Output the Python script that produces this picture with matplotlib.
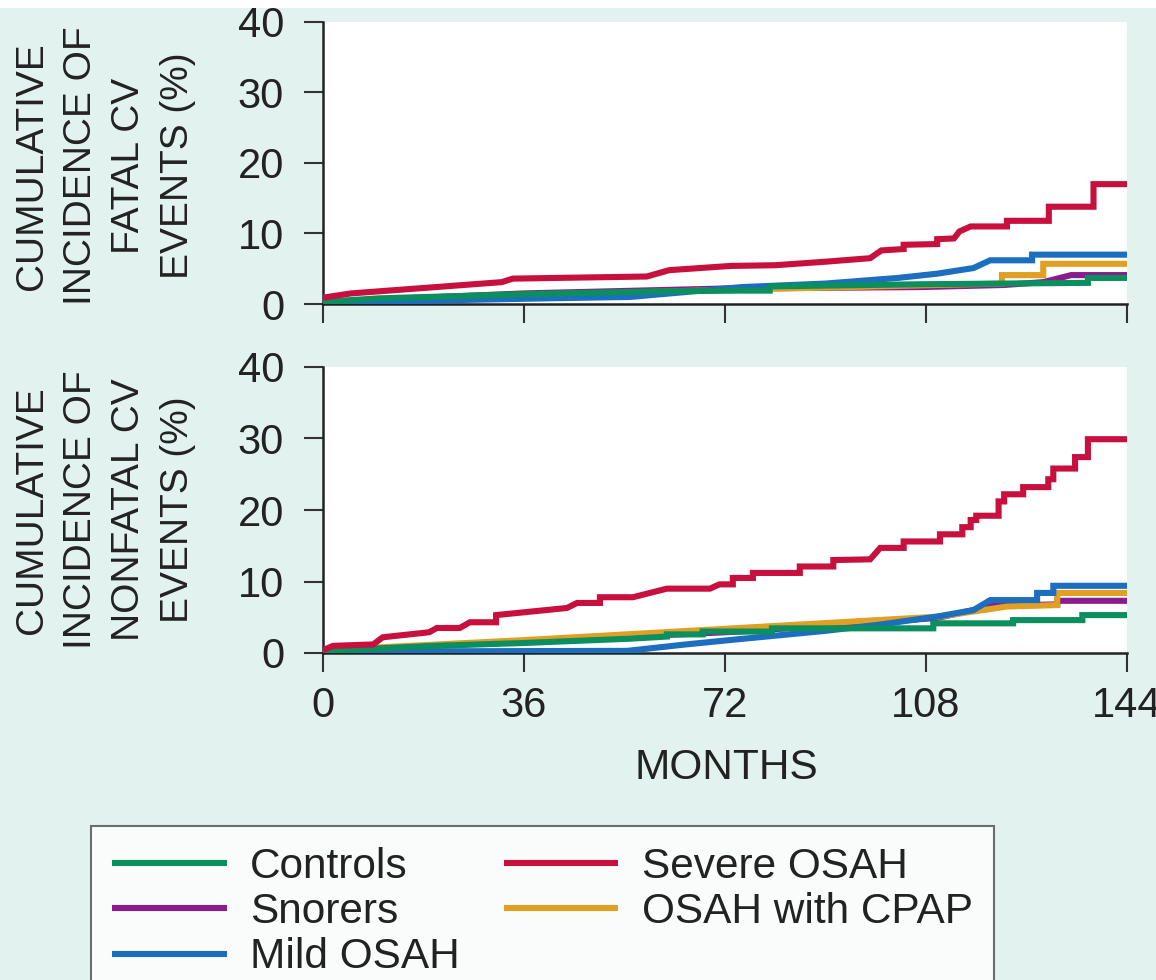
import matplotlib
matplotlib.use("Agg")
import matplotlib.pyplot as plt
from matplotlib.patches import Rectangle

plt.rcParams['font.family'] = ['Liberation Sans', 'DejaVu Sans']

# ---------------- data (months, cumulative incidence %) ----------------
group_names = ["Controls", "Snorers", "Mild OSAH", "Severe OSAH", "OSAH with CPAP"]
x_ticks = [0, 36, 72, 108, 144]
y_ticks = [0, 10, 20, 30, 40]

# Fatal CV events (top panel)
fatal_t_controls = [0, 10, 36, 60, 75, 80, 80, 107, 137, 137, 144]
fatal_v_controls = [0.3, 0.8, 1.4, 1.8, 1.9, 1.9, 2.5, 2.8, 3.0, 3.7, 3.7]

fatal_t_snorers = [0, 36, 72, 107, 122, 129, 134, 144]
fatal_v_snorers = [0.3, 1.5, 2.2, 2.4, 2.7, 3.1, 4.1, 4.1]

fatal_t_mild = [0, 20, 40, 55, 65, 75, 90, 103, 110, 116.5, 119.5, 127, 127, 144]
fatal_v_mild = [0.3, 0.5, 0.8, 1.0, 1.7, 2.4, 2.9, 3.7, 4.3, 5.1, 6.2, 6.2, 7.0, 7.0]

fatal_t_severe = [0, 5, 32, 34, 58, 62, 73, 81, 90, 98, 100, 104, 104, 110, 110, 113, 114,
                  116, 122.5, 122.5, 130, 130, 138, 138, 144]
fatal_v_severe = [0.9, 1.5, 3.1, 3.6, 3.9, 4.8, 5.4, 5.5, 6.0, 6.5, 7.6, 7.8, 8.4, 8.5, 9.2, 9.3, 10.3,
                  11.0, 11.0, 11.8, 11.8, 13.8, 13.8, 17.0, 17.0]

fatal_t_cpap = [0, 36, 72, 110, 121.6, 121.6, 129, 129, 144]
fatal_v_cpap = [0.3, 1.2, 2.0, 2.7, 2.9, 4.1, 4.1, 5.7, 5.7]

# Nonfatal CV events (bottom panel)
nonfatal_t_controls = [0, 20, 36, 55, 61.6, 61.6, 68, 68, 80.4, 80.4, 109.3, 109.3,
                       123.6, 123.6, 136, 136, 144]
nonfatal_v_controls = [0.3, 1.0, 1.4, 2.0, 2.3, 2.6, 2.6, 3.0, 3.0, 3.45, 3.45, 4.15,
                       4.15, 4.6, 4.6, 5.3, 5.3]

nonfatal_t_snorers = [0, 36, 74.7, 110, 120, 131.5, 131.5, 144]
nonfatal_v_snorers = [0.3, 1.6, 3.0, 4.9, 6.6, 6.8, 7.3, 7.3]

nonfatal_t_mild = [0, 54.5, 65, 74.7, 90, 100, 110, 116.5, 119.5, 127.9, 127.9,
                   130.8, 130.8, 144]
nonfatal_v_mild = [0.2, 0.3, 1.2, 1.95, 3.1, 4.0, 5.1, 6.0, 7.4, 7.4, 8.4,
                   8.4, 9.4, 9.4]

nonfatal_t_severe = [0, 1.8, 9, 10.7, 19, 20.4, 24.5, 26.3, 31, 31, 43.7, 45.5, 49.6, 49.6,
                     55.5, 61.6, 69.3, 71, 73.4, 73.4, 77, 77, 85.4, 85.4, 91.4, 91.4,
                     98, 99.8, 104, 104, 110.5, 110.5, 114.5, 114.5, 116, 116, 117, 117,
                     121, 121, 122, 122, 125.4, 125.4, 129.9, 129.9, 130.8, 130.8,
                     134.7, 134.7, 137, 137, 144]
nonfatal_v_severe = [0.4, 1.0, 1.2, 2.2, 2.9, 3.5, 3.5, 4.3, 4.3, 5.3, 6.3, 7.0, 7.0, 7.8,
                     7.8, 9.0, 9.0, 9.6, 9.6, 10.5, 10.5, 11.2, 11.2, 12.1, 12.1, 13.0,
                     13.1, 14.7, 14.7, 15.6, 15.6, 16.6, 16.6, 17.6, 17.6, 18.6, 18.6, 19.2,
                     19.2, 21.2, 21.2, 22.2, 22.2, 23.2, 23.2, 24.3, 24.3, 25.8,
                     25.8, 27.4, 27.4, 29.9, 29.9]

nonfatal_t_cpap = [0, 36, 74.7, 110.5, 122.5, 131.5, 131.5, 144]
nonfatal_v_cpap = [0.4, 1.8, 3.5, 5.1, 6.5, 6.7, 8.4, 8.4]

colors = {"Controls": "#0b8f5e", "Snorers": "#8a1c8c", "Mild OSAH": "#1c6fbe",
          "Severe OSAH": "#c8103f", "OSAH with CPAP": "#e0a024"}
zorders = {"Snorers": 2, "OSAH with CPAP": 3, "Mild OSAH": 4, "Controls": 5, "Severe OSAH": 6}

fatal = {"Controls": (fatal_t_controls, fatal_v_controls),
         "Snorers": (fatal_t_snorers, fatal_v_snorers),
         "Mild OSAH": (fatal_t_mild, fatal_v_mild),
         "Severe OSAH": (fatal_t_severe, fatal_v_severe),
         "OSAH with CPAP": (fatal_t_cpap, fatal_v_cpap)}
nonfatal = {"Controls": (nonfatal_t_controls, nonfatal_v_controls),
            "Snorers": (nonfatal_t_snorers, nonfatal_v_snorers),
            "Mild OSAH": (nonfatal_t_mild, nonfatal_v_mild),
            "Severe OSAH": (nonfatal_t_severe, nonfatal_v_severe),
            "OSAH with CPAP": (nonfatal_t_cpap, nonfatal_v_cpap)}

# ---------------- figure ----------------
W, H = 1156, 980
bg = "#e2f2ee"
fig = plt.figure(figsize=(W / 100, H / 100), dpi=100, facecolor=bg)

def fx(px):
    return px / W

def fy(py):
    return 1 - py / H

L, R = 323, 1127
ax1 = fig.add_axes([fx(L), fy(304), fx(R) - fx(L), (304 - 22) / H])
ax2 = fig.add_axes([fx(L), fy(653), fx(R) - fx(L), (653 - 367) / H])

handles = {}
for ax, data in ((ax1, fatal), (ax2, nonfatal)):
    ax.set_facecolor("white")
    for name in group_names:
        t, v = data[name]
        ln, = ax.plot(t, v, color=colors[name], lw=4.4, zorder=zorders[name],
                      solid_joinstyle="miter", solid_capstyle="butt")
        handles[name] = ln
    ax.set_xlim(0, 144)
    ax.set_ylim(0, 40)
    ax.set_xticks(x_ticks)
    ax.set_yticks(y_ticks)
    for s in ("top", "right"):
        ax.spines[s].set_visible(False)
    for s in ("left", "bottom"):
        ax.spines[s].set_linewidth(1.8)
        ax.spines[s].set_color("#222222")
    ax.tick_params(direction="out", length=14, width=1.5, color="#333333",
                   labelsize=30, labelcolor="#222222")
    ax.tick_params(axis="y", pad=14)

ax1.tick_params(axis="x", labelbottom=False)
ax2.tick_params(axis="x", pad=10)

fig.text(fx(726), fy(768), "MONTHS", ha="center", va="center", fontsize=30.5, color="#222222")

fig.text(fx(105), fy(166), "CUMULATIVE\nINCIDENCE OF\nFATAL CV\nEVENTS (%)",
         rotation=90, ha="center", va="center", multialignment="center",
         fontsize=28, linespacing=1.45, color="#222222")
fig.text(fx(105), fy(510), "CUMULATIVE\nINCIDENCE OF\nNONFATAL CV\nEVENTS (%)",
         rotation=90, ha="center", va="center", multialignment="center",
         fontsize=28, linespacing=1.45, color="#222222")

leg = fig.legend([handles[n] for n in group_names], group_names, ncol=2,
                 loc="upper left", bbox_to_anchor=(fx(91), fy(826)),
                 bbox_transform=fig.transFigure, borderaxespad=0,
                 fontsize=30.5, frameon=True, fancybox=False, edgecolor="#4a4a4a",
                 handlelength=2.7, handletextpad=0.55, columnspacing=1.05,
                 labelspacing=0.12, borderpad=0.5)
leg.get_frame().set_linewidth(1.5)
for txt in leg.get_texts():
    txt.set_color("#222222")

fig.patches.append(Rectangle((0, fy(8)), 1, 8 / H, transform=fig.transFigure,
                             facecolor="white", edgecolor="none", zorder=10))

fig.savefig("out.png", dpi=100, facecolor=bg)
